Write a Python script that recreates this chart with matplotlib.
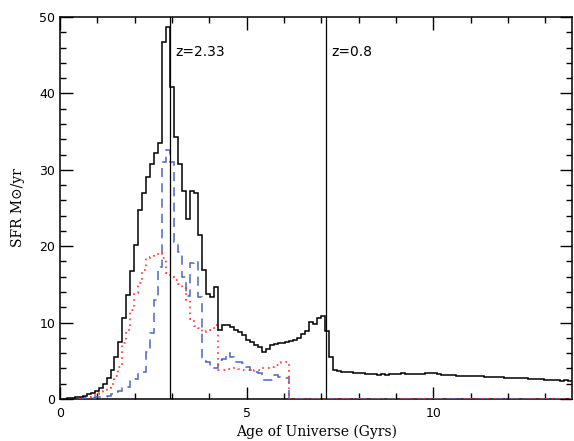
import numpy as np
import matplotlib
matplotlib.use("Agg")
import matplotlib.pyplot as plt
from matplotlib.ticker import MultipleLocator

# histogram binning (Gyr)
bin_start = 0.075
bin_width = 0.1065

# total SFR (black solid)
sfr_total = [
    0.05, 0.08, 0.12, 0.2, 0.3, 0.45, 0.6, 0.8, 1.1, 1.5,
    2.0, 2.8, 3.8, 5.5, 7.5, 10.6, 13.6, 16.7, 20.2, 24.7,
    26.9, 29.1, 30.8, 32.2, 33.5, 46.7, 48.7, 40.9, 34.3, 30.8,
    27.2, 23.6, 27.2, 27.0, 21.5, 16.9, 13.8, 13.4, 14.7, 9.0,
    9.7, 9.7, 9.4, 9.0, 8.8, 8.4, 7.7, 7.5, 7.1, 6.8,
    6.2, 6.5, 7.1, 7.2, 7.3, 7.3, 7.5, 7.6, 7.7, 8.0,
    8.5, 8.9, 10.1, 9.8, 10.6, 10.8, 8.9, 5.5, 3.8, 3.7,
    3.6, 3.5, 3.5, 3.4, 3.4, 3.35, 3.3, 3.25, 3.25, 3.2,
    3.25, 3.2, 3.25, 3.3, 3.3, 3.35, 3.3, 3.3, 3.25, 3.25,
    3.3, 3.35, 3.4, 3.35, 3.3, 3.2, 3.15, 3.1, 3.1, 3.05,
    3.0, 3.0, 3.0, 2.95, 2.95, 2.95, 2.9, 2.9, 2.85, 2.85,
    2.85, 2.8, 2.75, 2.75, 2.7, 2.7, 2.7, 2.65, 2.65, 2.65,
    2.6, 2.55, 2.5, 2.5, 2.45, 2.4, 2.45, 2.4,
]

# blue dashed component
sfr_blue = [
    0.0, 0.0, 0.0, 0.02, 0.05, 0.08, 0.1, 0.15, 0.2, 0.25,
    0.3, 0.4, 0.7, 0.95, 1.1, 1.5, 1.6, 2.5, 2.6, 3.5,
    3.6, 6.2, 8.6, 13.0, 17.3, 31.0, 32.6, 31.0, 20.5, 19.3,
    16.0, 13.5, 17.8, 18.0, 13.4, 5.0, 4.9, 4.3, 4.0, 5.1,
    5.3, 6.0, 5.5, 4.9, 4.9, 4.7, 4.2, 3.8, 3.6, 3.4,
    2.5, 2.5, 2.5, 3.1, 2.9, 2.8, 2.8,
] + [0.0] * 71

# red dotted component
sfr_red = [
    0.0, 0.0, 0.05, 0.1, 0.15, 0.2, 0.3, 0.4, 0.6, 0.8,
    1.1, 1.5, 2.0, 3.0, 4.2, 7.3, 9.0, 11.6, 13.9, 15.2,
    16.9, 18.4, 18.6, 18.8, 19.1, 18.4, 16.5, 16.0, 15.6, 15.0,
    14.5, 13.0, 10.5, 9.5, 9.3, 8.8, 8.9, 9.0, 9.7, 3.8,
    3.8, 3.9, 4.0, 4.0, 3.9, 3.8, 3.8, 3.7, 3.8, 3.8,
    4.0, 4.1, 4.2, 4.4, 4.5, 4.9, 4.9,
] + [0.0] * 71

redshift_ages = [2.95, 7.13]
redshift_labels = ["z=2.33", "z=0.8"]


def main():
    edges = bin_start + bin_width * np.arange(len(sfr_total) + 1)

    fig = plt.figure(figsize=(5.74, 4.41), dpi=100)
    ax = fig.add_axes([0.1045, 0.0952, 0.8925, 0.8663])

    ax.stairs(sfr_total, edges, baseline=None, color="black", lw=1.1, zorder=4)
    ax.stairs(sfr_blue, edges, baseline=None, color="#4a66c2", lw=1.1,
              linestyle=(0, (6, 4)), zorder=3)
    ax.stairs(sfr_red, edges, baseline=None, color="#ff3030", lw=1.2,
              linestyle=(0, (1, 2.5)), zorder=3)

    for age, label in zip(redshift_ages, redshift_labels):
        ax.axvline(age, color="black", lw=0.9, zorder=5)
        ax.text(age + 0.15, 45.4, label, fontsize=10, va="center",
                family="DejaVu Sans")

    ax.set_xlim(0, 13.72)
    ax.set_ylim(0, 50)
    ax.xaxis.set_major_locator(MultipleLocator(5))
    ax.xaxis.set_minor_locator(MultipleLocator(1))
    ax.yaxis.set_major_locator(MultipleLocator(10))
    ax.yaxis.set_minor_locator(MultipleLocator(2))
    ax.tick_params(which="both", direction="in", top=True, right=True,
                   labelsize=9, width=1.0)
    ax.tick_params(which="major", length=9)
    ax.tick_params(which="minor", length=4.5)
    ax.tick_params(axis="x", which="major", pad=6)
    for spine in ax.spines.values():
        spine.set_linewidth(1.1)

    ax.set_xlabel("Age of Universe (Gyrs)", family="DejaVu Serif",
                  fontsize=10, labelpad=3)
    ax.set_ylabel("SFR M\u2299/yr", family="DejaVu Serif", fontsize=10,
                  labelpad=10)

    plt.savefig("out.png", dpi=100)


if __name__ == "__main__":
    main()
